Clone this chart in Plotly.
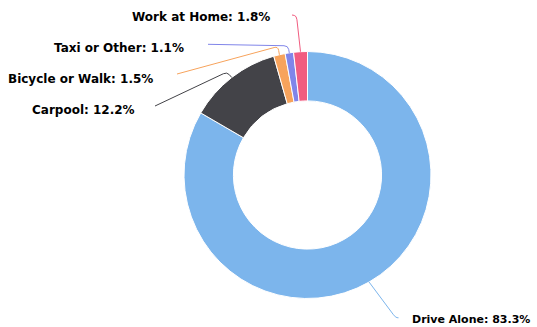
import numpy as np
import plotly.graph_objects as go

# Commute mode shares (percent)
modes = ["Drive Alone", "Carpool", "Bicycle or Walk", "Taxi or Other", "Work at Home"]
shares = [83.3, 12.2, 1.5, 1.1, 1.8]
colors = ["#7cb5ec", "#434348", "#f7a35c", "#8085e9", "#f15c80"]

W, H = 537, 327
cx, cy, R = 307.5, 175.0, 123.5  # pie centre and outer radius in pixels

# Label placement (pixel space): text anchor point, side, and connector start / crook points
label_pos = {
    "Drive Alone":     dict(x=410, y=319.5, side="left",  size=11, start=None,         crook=(395.5, 317.5)),
    "Carpool":         dict(x=137, y=110,   side="right", size=12, start=(155, 106),   crook=(227, 72)),
    "Bicycle or Walk": dict(x=155, y=78.5,  side="right", size=12, start=(177, 74),    crook=(278, 46.5)),
    "Taxi or Other":   dict(x=186, y=48,    side="right", size=12, start=(208, 44.3),  crook=(288, 45.8)),
    "Work at Home":    dict(x=272, y=17,    side="right", size=12, start=(292, 15),    crook=(296.5, 15.8)),
}

fig = go.Figure()

fig.add_trace(go.Pie(
    labels=modes,
    values=shares,
    sort=False,
    direction="clockwise",
    rotation=0,
    hole=0.6,
    marker=dict(colors=colors, line=dict(color="#ffffff", width=1)),
    textinfo="none",
    hoverinfo="label+percent",
    showlegend=False,
    domain=dict(x=[(cx - R) / W, (cx + R) / W],
                y=[(H - cy - R) / H, (H - cy + R) / H]),
))

# Slice mid-angles (clockwise from 12 o'clock) derived from the shares
vals = np.array(shares, dtype=float)
frac = vals / vals.sum()
mid = (np.cumsum(frac) - frac / 2) * 2 * np.pi


def rounded_path(p0, pc, p1, r=4.0):
    p0, pc, p1 = map(np.asarray, (p0, pc, p1))
    d0 = pc - p0
    d1 = p1 - pc
    r0 = min(r, np.linalg.norm(d0) / 2)
    r1 = min(r, np.linalg.norm(d1) / 2)
    a = pc - d0 / np.linalg.norm(d0) * r0
    b = pc + d1 / np.linalg.norm(d1) * r1
    return (f"M {p0[0]:.2f},{p0[1]:.2f} L {a[0]:.2f},{a[1]:.2f} "
            f"Q {pc[0]:.2f},{pc[1]:.2f} {b[0]:.2f},{b[1]:.2f} L {p1[0]:.2f},{p1[1]:.2f}")


for name, val, col, ang in zip(modes, shares, colors, mid):
    edge = (cx + R * np.sin(ang), cy - R * np.cos(ang))
    lp = label_pos[name]
    if lp["start"] is None:
        # connector drawn from the slice outward to the label
        path = rounded_path(edge, lp["crook"], (lp["crook"][0] + 3, lp["crook"][1] + 0.3))
    else:
        path = rounded_path(lp["start"], lp["crook"], edge)
    fig.add_shape(type="path", path=path, xref="x", yref="y",
                  line=dict(color=col, width=1), layer="above")
    fig.add_annotation(
        x=lp["x"], y=lp["y"], xref="x", yref="y",
        text=f"<b>{name}: {val:.1f}%</b>",
        showarrow=False,
        xanchor="left" if lp["side"] == "left" else "right",
        yanchor="middle",
        font=dict(family="DejaVu Sans", size=lp["size"], color="#000000"),
    )

fig.update_layout(
    width=W, height=H,
    margin=dict(l=0, r=0, t=0, b=0),
    paper_bgcolor="#ffffff",
    plot_bgcolor="rgba(0,0,0,0)",
    xaxis=dict(range=[0, W], visible=False, fixedrange=True, domain=[0, 1]),
    yaxis=dict(range=[H, 0], visible=False, fixedrange=True, domain=[0, 1]),
)

fig.write_html("out.html")
